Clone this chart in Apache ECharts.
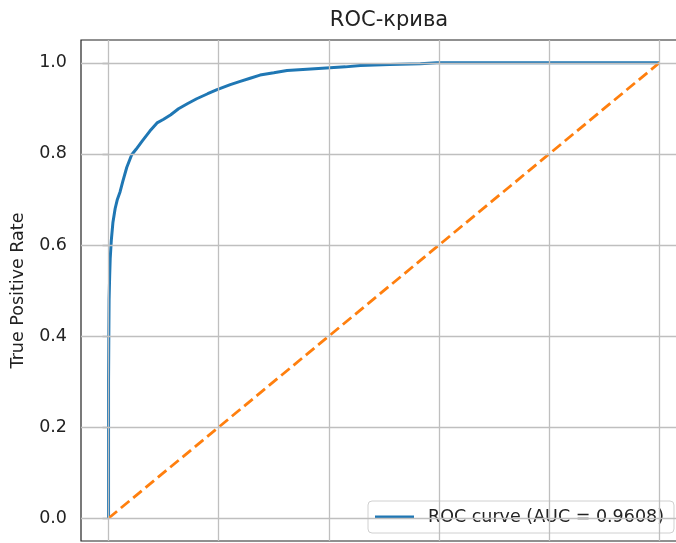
<!DOCTYPE html>
<html>
<head>
<meta charset="utf-8">
<title>ROC-крива</title>
<script src="https://cdn.jsdelivr.net/npm/echarts@6/dist/echarts.min.js"></script>
<style>
  html, body { margin: 0; padding: 0; background: #fff; }
  #chart { width: 676px; height: 543px; }
</style>
</head>
<body>
<div id="chart"></div>
<script>
// ROC curve points
const fpr = [0, 0, 0.0005, 0.001, 0.002, 0.003, 0.005, 0.008, 0.012, 0.016, 0.021, 0.026, 0.033, 0.042,
  0.05, 0.061, 0.075, 0.088, 0.1, 0.113, 0.127, 0.143, 0.16, 0.18, 0.197, 0.221, 0.239, 0.257,
  0.275, 0.3, 0.324, 0.36, 0.402, 0.43, 0.457, 0.51, 0.566, 0.596, 1]
const tpr = [0, 0.30, 0.40, 0.48, 0.53, 0.57, 0.61, 0.65, 0.68, 0.70, 0.717, 0.74, 0.77, 0.798,
  0.81, 0.828, 0.85, 0.868, 0.876, 0.886, 0.899, 0.91, 0.921, 0.932, 0.941, 0.952, 0.959, 0.966,
  0.973, 0.978, 0.983, 0.986, 0.989, 0.991, 0.994, 0.996, 0.998, 1.0, 1.0]
// random-guess diagonal
const diagX = [0, 1]
const diagY = [0, 1]
// tick positions (both axes)
const ticks = [0, 0.2, 0.4, 0.6, 0.8, 1.0]
const rocName = 'ROC curve (AUC = 0.9608)'

const FONT = 'DejaVu Sans'
const chart = echarts.init(document.getElementById('chart'), null, { renderer: 'canvas' })

// grid lines as mark lines so they sit on the 0..1 ticks, not on min
const gridLines = [
  ...ticks.map(v => ({ xAxis: v })),
  ...ticks.map(v => ({ yAxis: v })),
]

chart.setOption({
  animation: false,
  backgroundColor: '#fff',
  textStyle: { fontFamily: FONT },
  title: {
    text: 'ROC-крива',
    left: 384, top: 5,
    textAlign: 'center',
    textStyle: { fontFamily: FONT, fontSize: 21, fontWeight: 'normal', color: '#222' },
  },
  grid: {
    left: 81, right: -11, top: 40, bottom: 2,
    outerBoundsMode: 'none',
    show: true, backgroundColor: '#fff',
    borderColor: '#222', borderWidth: 1.2,
  },
  legend: {
    data: [{ name: rocName, icon: 'rect' }],
    left: 368, top: 501,
    padding: [7, 10, 7, 7],
    itemWidth: 39, itemHeight: 3,
    backgroundColor: 'rgba(255,255,255,0.8)',
    borderColor: '#d0d0d0', borderWidth: 1, borderRadius: 4,
    textStyle: { fontFamily: FONT, fontSize: 17.5, color: '#222', lineHeight: 18, padding: [0, 0, 0, 9] },
  },
  xAxis: {
    type: 'value', min: -0.05, max: 1.05,
    axisLine: { show: false }, axisTick: { show: false },
    axisLabel: { show: false }, splitLine: { show: false },
  },
  yAxis: {
    type: 'value', min: -0.05, max: 1.05,
    name: 'True Positive Rate',
    nameLocation: 'middle', nameRotate: 90, nameGap: 54,
    nameTextStyle: { fontFamily: FONT, fontSize: 17.5, color: '#222' },
    axisLine: { show: false },
    axisTick: { show: true, customValues: ticks, length: 6, lineStyle: { color: '#222', width: 1.2 } },
    axisLabel: {
      customValues: ticks, margin: 14,
      formatter: v => v.toFixed(1),
      fontFamily: FONT, fontSize: 17.5, color: '#222',
    },
    splitLine: { show: false },
  },
  series: [
    {
      name: 'grid', type: 'line', data: [], z: 1, silent: true,
      markLine: {
        silent: true, symbol: ['none', 'none'], label: { show: false },
        lineStyle: { color: '#bfbfbf', width: 1.3, type: 'solid' },
        data: gridLines,
      },
    },
    {
      name: rocName, type: 'line', z: 3,
      data: fpr.map((x, i) => [x, tpr[i]]),
      showSymbol: false, symbol: 'none',
      lineStyle: { color: '#1f77b4', width: 3 },
      itemStyle: { color: '#1f77b4' },
    },
    {
      name: 'diag', type: 'line', z: 4,
      data: diagX.map((x, i) => [x, diagY[i]]),
      showSymbol: false, symbol: 'none',
      lineStyle: { color: '#ff7f0e', width: 2.8, type: [11, 5] },
    },
  ],
})
</script>
</body>
</html>
